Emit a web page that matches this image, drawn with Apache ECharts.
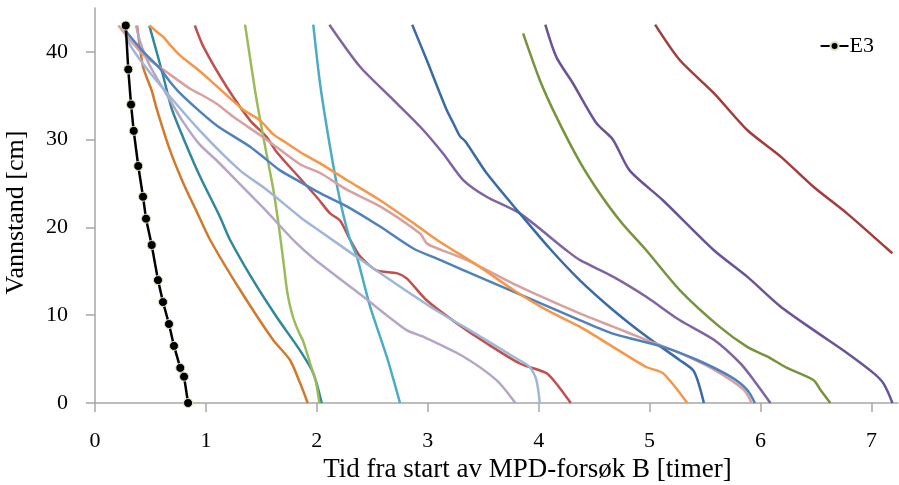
<!DOCTYPE html>
<html><head><meta charset="utf-8">
<script src="https://cdn.jsdelivr.net/npm/echarts@6/dist/echarts.min.js"></script>
<style>html,body{margin:0;padding:0;background:#fff}#c{width:899px;height:485px}</style>
</head><body><div id="c"></div>
<script>
// [time (h), water level (cm)]
const E3 = [[0.277,43],[0.300,38],[0.325,34],[0.349,31],[0.390,27],[0.433,23.5],[0.460,21],[0.511,18],[0.568,14],[0.613,11.5],[0.667,9],[0.712,6.5],[0.769,4],[0.803,3],[0.839,0]];
const sOrangeBrown = [[0.38,43],[0.433,38.3],[0.511,35.6],[0.559,33.4],[0.676,28.8],[0.794,25.1],[0.917,21.8],[1.037,18.6],[1.307,12.9],[1.605,7.2],[1.758,4.9],[1.848,2.3],[1.918,0]];
const sTeal = [[0.49,43],[0.571,39.3],[0.616,37.2],[0.69,33.6],[0.796,30.2],[0.947,25.8],[1.127,21.2],[1.217,18.6],[1.425,14.0],[1.638,9.8],[1.848,6.0],[1.968,3.4],[2.044,0]];
const sRed = [[0.90,43],[0.977,40.6],[1.188,36],[1.398,32.2],[1.548,30.3],[1.638,28.6],[1.848,25.6],[2.01,23.3],[2.119,21.6],[2.209,20.8],[2.30,18.6],[2.39,16.7],[2.54,15.1],[2.72,14.8],[2.81,14.2],[2.99,11.7],[3.26,9.1],[3.53,6.8],[3.83,4.5],[4.07,3.4],[4.16,2.2],[4.29,0]];
const sGreen = [[1.353,43.1],[1.443,35.6],[1.50,31.5],[1.56,27.5],[1.608,24.3],[1.65,20.8],[1.693,16.7],[1.735,12.5],[1.78,10.0],[1.83,8.3],[1.878,7.0],[1.94,4.5],[1.99,2.5],[2.023,0]];
const sCyan = [[1.968,43.1],[2.029,36.4],[2.119,29.2],[2.209,23.1],[2.299,18.6],[2.36,16.7],[2.48,11.0],[2.63,5.3],[2.75,0]];
const sPurple = [[2.113,43.1],[2.39,38.3],[2.66,34.9],[2.93,31.5],[3.14,28.4],[3.32,25.4],[3.53,23.5],[3.83,21.6],[4.25,17.4],[4.37,16.3],[4.67,14.4],[4.97,12.1],[5.27,9.45],[5.58,7.2],[5.82,4.5],[5.94,2.6],[6.09,0]];
const sDarkBlue = [[2.86,43.1],[2.99,39.1],[3.17,33.4],[3.23,31.9],[3.29,30.4],[3.34,29.8],[3.53,26.2],[3.83,21.6],[4.10,17.6],[4.37,14.0],[4.67,10.6],[4.97,7.6],[5.27,4.9],[5.40,3.6],[5.49,0]];
const sOlive = [[3.86,42.1],[4.01,36.8],[4.16,32.6],[4.37,27.5],[4.55,23.9],[4.75,20.5],[4.97,17.4],[5.27,12.9],[5.63,8.7],[5.88,6.4],[6.06,5.3],[6.24,4.0],[6.48,2.6],[6.54,1.5],[6.63,0]];
const sDarkPurple = [[4.06,43.1],[4.16,39.4],[4.31,36.4],[4.52,31.9],[4.67,30.0],[4.82,26.5],[5.12,23.1],[5.58,17.4],[5.88,14.4],[6.18,11.0],[6.48,8.3],[6.78,5.7],[7.02,3.4],[7.11,2.2],[7.19,0]];
const sDarkRed = [[5.05,43.1],[5.27,39.1],[5.58,35.3],[5.88,31.1],[6.18,28.1],[6.48,24.6],[6.78,21.6],[7.14,17.6],[7.19,17.05]];
const sOrange = [[0.49,43],[0.556,42.3],[0.616,41.7],[0.676,40.8],[0.766,39.6],[0.917,38.1],[1.097,36.1],[1.337,33.4],[1.488,32.2],[1.608,30.6],[1.729,29.6],[1.848,28.6],[2.03,27.3],[2.27,25.4],[2.57,23.1],[2.87,20.5],[3.08,18.6],[3.47,15.5],[3.77,12.9],[4.07,10.6],[4.37,8.7],[4.67,6.4],[4.97,4.1],[5.12,3.4],[5.34,0]];
const sBlue = [[0.27,42.5],[0.436,40.0],[0.586,38.1],[0.676,36.6],[0.766,35.3],[0.947,33.2],[1.11,31.5],[1.398,29.2],[1.548,27.7],[1.668,26.5],[1.848,25.2],[2.03,23.9],[2.27,22.4],[2.57,20.1],[2.87,17.6],[3.11,16.3],[3.53,14.0],[3.92,11.9],[4.37,9.45],[4.67,7.9],[5.12,6.4],[5.43,4.9],[5.73,3.0],[5.88,1.5],[5.95,0]];
const sPink = [[0.21,43],[0.44,39.6],[0.646,37.7],[0.857,35.8],[0.947,35.2],[1.097,34.1],[1.247,32.6],[1.548,30.0],[1.848,27.2],[2.03,26.2],[2.27,24.3],[2.57,22.4],[2.93,19.3],[2.99,18.2],[3.05,17.8],[3.35,16.3],[3.77,13.6],[4.37,10.2],[4.67,8.7],[4.97,7.2],[5.27,5.7],[5.58,3.8],[5.85,1.5],[5.92,0]];
const sLightBlue = [[0.24,43],[0.316,40.8],[0.436,38.6],[0.616,35.8],[0.947,31.0],[1.307,26.5],[1.548,24.3],[1.848,21.2],[1.968,20.1],[2.57,14.8],[3.02,11.0],[3.47,7.6],[3.77,5.3],[3.92,4.1],[3.98,2.6],[4.01,0]];
const sLavender = [[0.37,43],[0.406,41.2],[0.48,38.8],[0.586,36.4],[0.676,34.5],[0.796,32.0],[0.947,29.4],[1.1,27.6],[1.247,25.7],[1.52,22.2],[1.80,18.4],[1.968,16.5],[2.42,12.1],[2.81,8.3],[2.96,7.55],[3.32,5.3],[3.62,2.6],[3.79,0]];

const xTicks = [0,1,2,3,4,5,6,7];
const yTicks = [0,10,20,30,40];

const lines = [
  ['S1', sOrangeBrown, '#D27A2C'],
  ['S2', sTeal, '#31889B'],
  ['S3', sRed, '#C0504D'],
  ['S4', sGreen, '#9BBB59'],
  ['S5', sCyan, '#4BACC6'],
  ['S6', sPurple, '#8064A2'],
  ['S7', sDarkBlue, '#3A6BA6'],
  ['S8', sOlive, '#77933C'],
  ['S9', sDarkPurple, '#6A5396'],
  ['S10', sDarkRed, '#A43D3A'],
  ['S11', sLavender, '#B5A6C9'],
  ['S12', sLightBlue, '#A0B6D9'],
  ['S13', sPink, '#D9A0A0'],
  ['S14', sBlue, '#4F81BD'],
  ['S15', sOrange, '#F79646']
];

const FONT = 'Liberation Serif';
const series = lines.map(([name, data, color]) => ({
  name, type: 'line', data, showSymbol: false, smooth: 0.25,
  lineStyle: {color, width: 2.5}, itemStyle: {color}, silent: true, z: 2
}));
series.push({
  name: 'E3', type: 'line', data: E3, symbol: 'circle', symbolSize: 9,
  lineStyle: {color: '#000', width: 2.5},
  itemStyle: {color: '#000', borderColor: '#D8E4BC', borderWidth: 1},
  z: 5
});

const chart = echarts.init(document.getElementById('c'), null, {renderer: 'canvas'});
chart.setOption({
  animation: false,
  backgroundColor: '#fff',
  grid: {left: 95, right: 1, top: 8, bottom: 82, containLabel: false, outerBoundsMode: 'none'},
  legend: {
    data: ['E3'], right: 20, top: 30, itemWidth: 28, itemHeight: 10, itemGap: 0,
    textStyle: {fontFamily: FONT, fontSize: 22, color: '#000', padding: [0,0,0,-4]}
  },
  xAxis: {
    type: 'value', min: 0, max: 7.24,
    name: 'Tid fra start av MPD-forsøk B [timer]', nameLocation: 'middle', nameGap: 49,
    nameTextStyle: {fontFamily: FONT, fontSize: 27, color: '#000', padding: [0,0,0,62]},
    axisLine: {show: true, lineStyle: {color: '#A6A6A6', width: 1.5}},
    axisTick: {show: true, inside: false, length: 9, customValues: xTicks, lineStyle: {color: '#A6A6A6', width: 1.5}},
    axisLabel: {customValues: xTicks, margin: 27, fontFamily: FONT, fontSize: 22, color: '#000'},
    splitLine: {show: false}
  },
  yAxis: {
    type: 'value', min: 0, max: 45,
    name: 'Vannstand [cm]', nameLocation: 'middle', nameGap: 66, nameRotate: 90,
    nameTextStyle: {fontFamily: FONT, fontSize: 26, color: '#000', padding: [0,14,0,0]},
    axisLine: {show: true, lineStyle: {color: '#A6A6A6', width: 1.5}},
    axisTick: {show: true, inside: false, length: 9, customValues: yTicks, lineStyle: {color: '#A6A6A6', width: 1.5}},
    axisLabel: {customValues: yTicks, margin: 27, fontFamily: FONT, fontSize: 22, color: '#000'},
    splitLine: {show: false}
  },
  series
});
</script></body></html>
